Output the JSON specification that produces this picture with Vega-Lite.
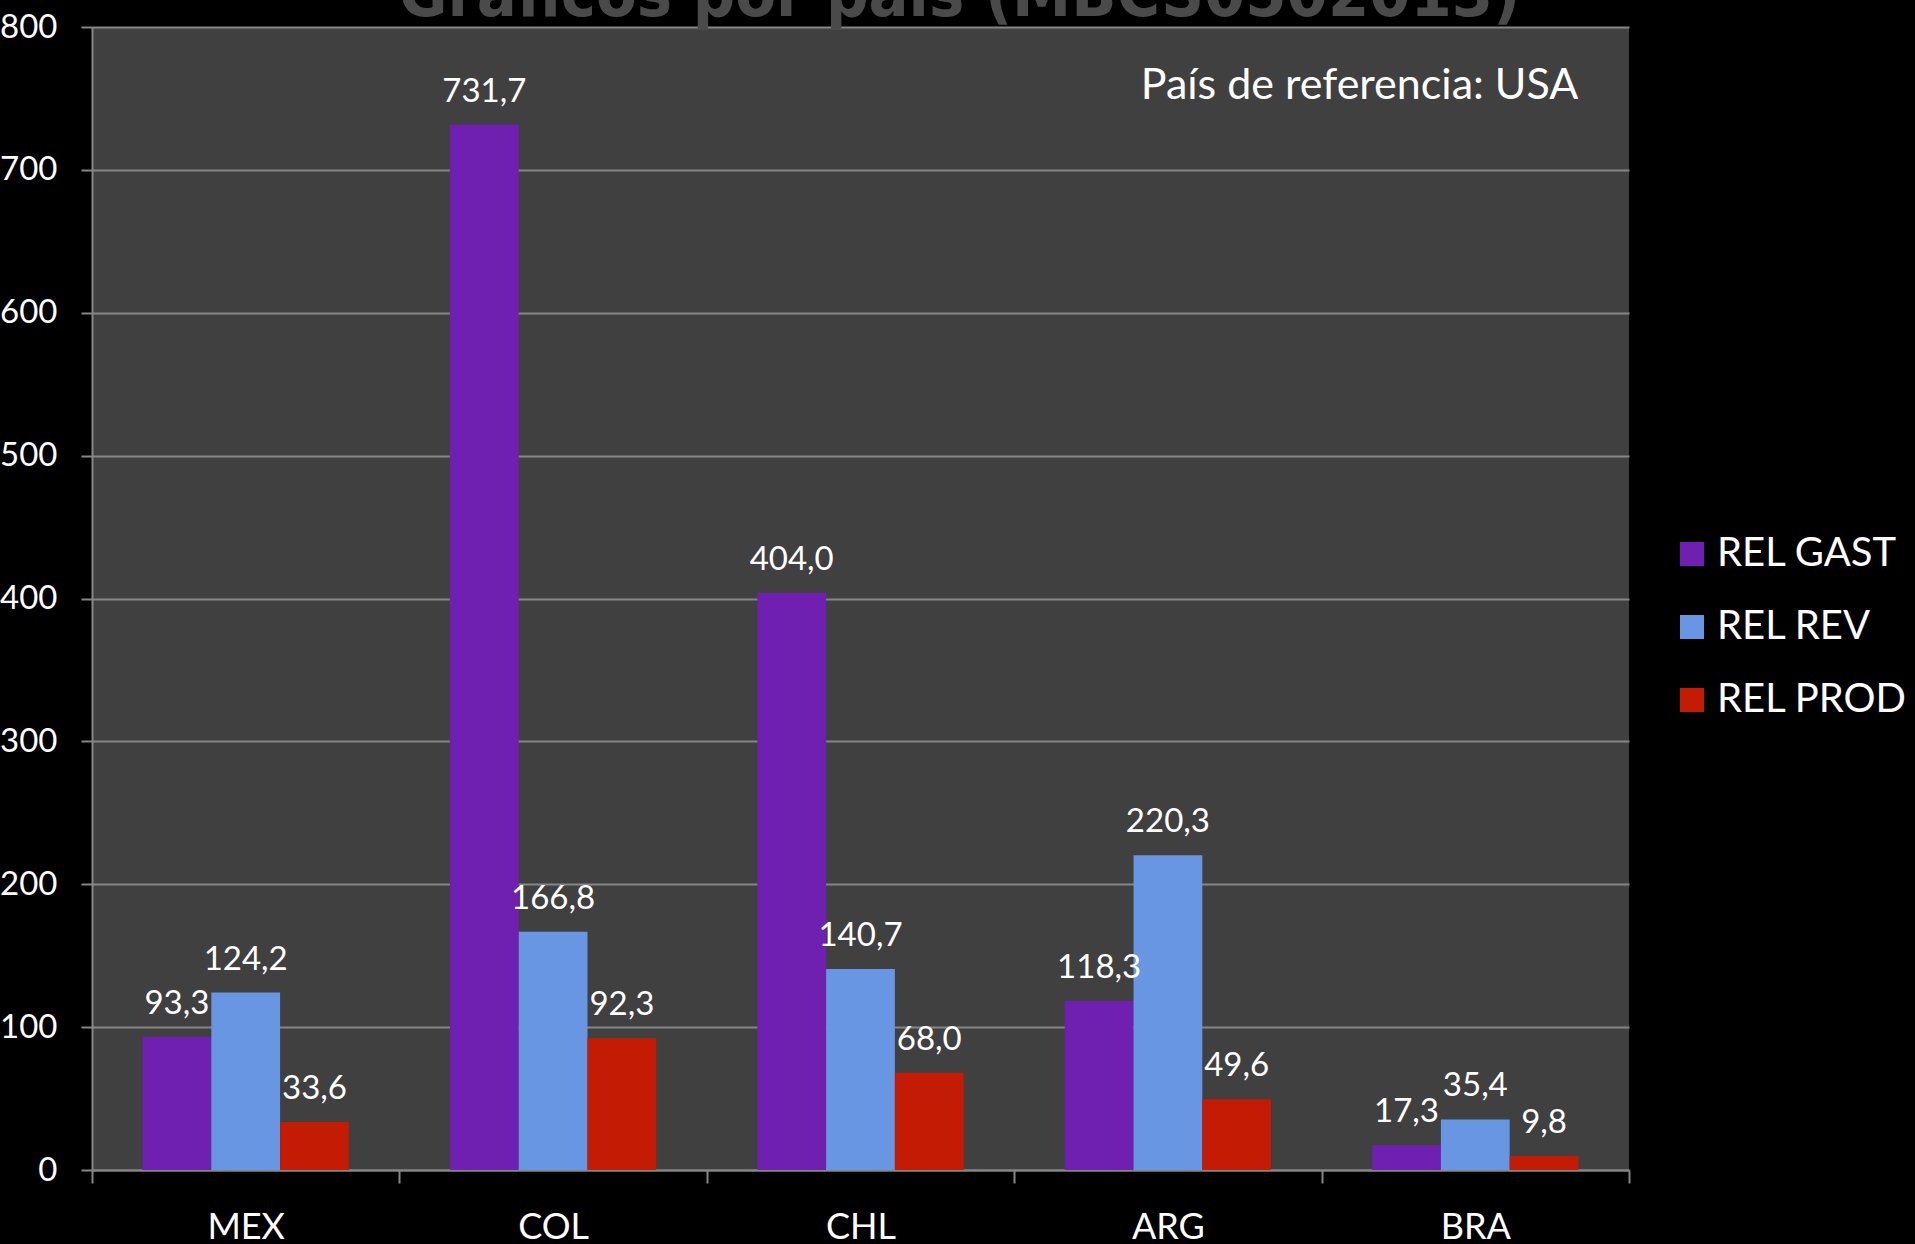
{
  "$schema": "https://vega.github.io/schema/vega-lite/v6.json",
  "autosize": {"type": "none"},
  "width": 1537,
  "height": 1143,
  "padding": {"left": 92, "top": 27, "right": 286, "bottom": 74},
  "background": "#000000",
  "config": {
    "font": "Lato",
    "view": {"fill": "#404040", "stroke": null},
    "locale": {"number": {"decimal": ",", "thousands": ".", "grouping": [3], "currency": ["", " €"]}},
    "axis": {
      "domainColor": "#868686",
      "domainWidth": 2,
      "gridColor": "#868686",
      "gridWidth": 2,
      "tickColor": "#868686",
      "tickWidth": 2,
      "labelColor": "#ffffff",
      "labelFont": "Lato",
      "title": null
    }
  },
  "data": {
    "values": [
      {"pais": "MEX", "serie": "REL GAST", "valor": 93.3},
      {"pais": "MEX", "serie": "REL REV", "valor": 124.2},
      {"pais": "MEX", "serie": "REL PROD", "valor": 33.6},
      {"pais": "COL", "serie": "REL GAST", "valor": 731.7},
      {"pais": "COL", "serie": "REL REV", "valor": 166.8},
      {"pais": "COL", "serie": "REL PROD", "valor": 92.3},
      {"pais": "CHL", "serie": "REL GAST", "valor": 404.0},
      {"pais": "CHL", "serie": "REL REV", "valor": 140.7},
      {"pais": "CHL", "serie": "REL PROD", "valor": 68.0},
      {"pais": "ARG", "serie": "REL GAST", "valor": 118.3},
      {"pais": "ARG", "serie": "REL REV", "valor": 220.3},
      {"pais": "ARG", "serie": "REL PROD", "valor": 49.6},
      {"pais": "BRA", "serie": "REL GAST", "valor": 17.3},
      {"pais": "BRA", "serie": "REL REV", "valor": 35.4},
      {"pais": "BRA", "serie": "REL PROD", "valor": 9.8}
    ]
  },
  "encoding": {
    "x": {
      "field": "pais",
      "type": "nominal",
      "sort": ["MEX", "COL", "CHL", "ARG", "BRA"],
      "scale": {"paddingInner": 0, "paddingOuter": 0},
      "axis": {
        "labelAngle": 0,
        "labelFontSize": 36,
        "tickSize": 13,
        "tickBand": "extent",
        "labelPadding": 27,
        "grid": false
      }
    },
    "xOffset": {
      "field": "serie",
      "type": "nominal",
      "sort": ["REL GAST", "REL REV", "REL PROD"],
      "scale": {"paddingInner": 0, "paddingOuter": 0.735}
    },
    "y": {
      "field": "valor",
      "type": "quantitative",
      "scale": {"domain": [0, 800], "nice": false},
      "axis": {
        "values": [0, 100, 200, 300, 400, 500, 600, 700, 800],
        "labelFontSize": 33,
        "tickSize": 11,
        "labelPadding": 24,
        "format": "d"
      }
    }
  },
  "layer": [
    {
      "data": {"values": [{"titulo": "Gráficos por país (MBCS0502013)", "pais": "CHL", "valor": 808}]},
      "mark": {"type": "text", "align": "center", "baseline": "alphabetic", "dx": 99, "fontSize": 66, "fontWeight": "bold", "font": "DejaVu Sans Condensed", "color": "#4a4a4a", "clip": false},
      "encoding": {
        "xOffset": null,
        "text": {"field": "titulo", "type": "nominal"}
      }
    },
    {
      "mark": {"type": "bar"},
      "encoding": {
        "color": {
          "field": "serie",
          "type": "nominal",
          "sort": ["REL GAST", "REL REV", "REL PROD"],
          "scale": {"domain": ["REL GAST", "REL REV", "REL PROD"], "range": ["#7020b0", "#6896e2", "#c41c04"]},
          "legend": {
            "title": null,
            "orient": "none",
            "legendX": 1580,
            "legendY": 507,
            "symbolType": "square",
            "symbolSize": 576,
            "symbolStrokeWidth": 0,
            "labelFontSize": 40,
            "labelColor": "#ffffff",
            "labelFont": "Lato",
            "labelOffset": 5,
            "labelLimit": 0,
            "rowPadding": 33
          }
        }
      }
    },
    {
      "mark": {"type": "text", "baseline": "alphabetic", "dy": -23, "fontSize": 33, "color": "#ffffff", "font": "Lato"},
      "encoding": {
        "text": {"field": "valor", "type": "quantitative", "format": ".1f"}
      }
    },
    {
      "data": {"values": [{"nota": "País de referencia: USA", "pais": "BRA", "valor": 759}]},
      "mark": {"type": "text", "align": "right", "baseline": "middle", "dx": 103, "fontSize": 43, "color": "#ffffff", "font": "Lato"},
      "encoding": {
        "xOffset": null,
        "text": {"field": "nota", "type": "nominal"}
      }
    }
  ]
}
